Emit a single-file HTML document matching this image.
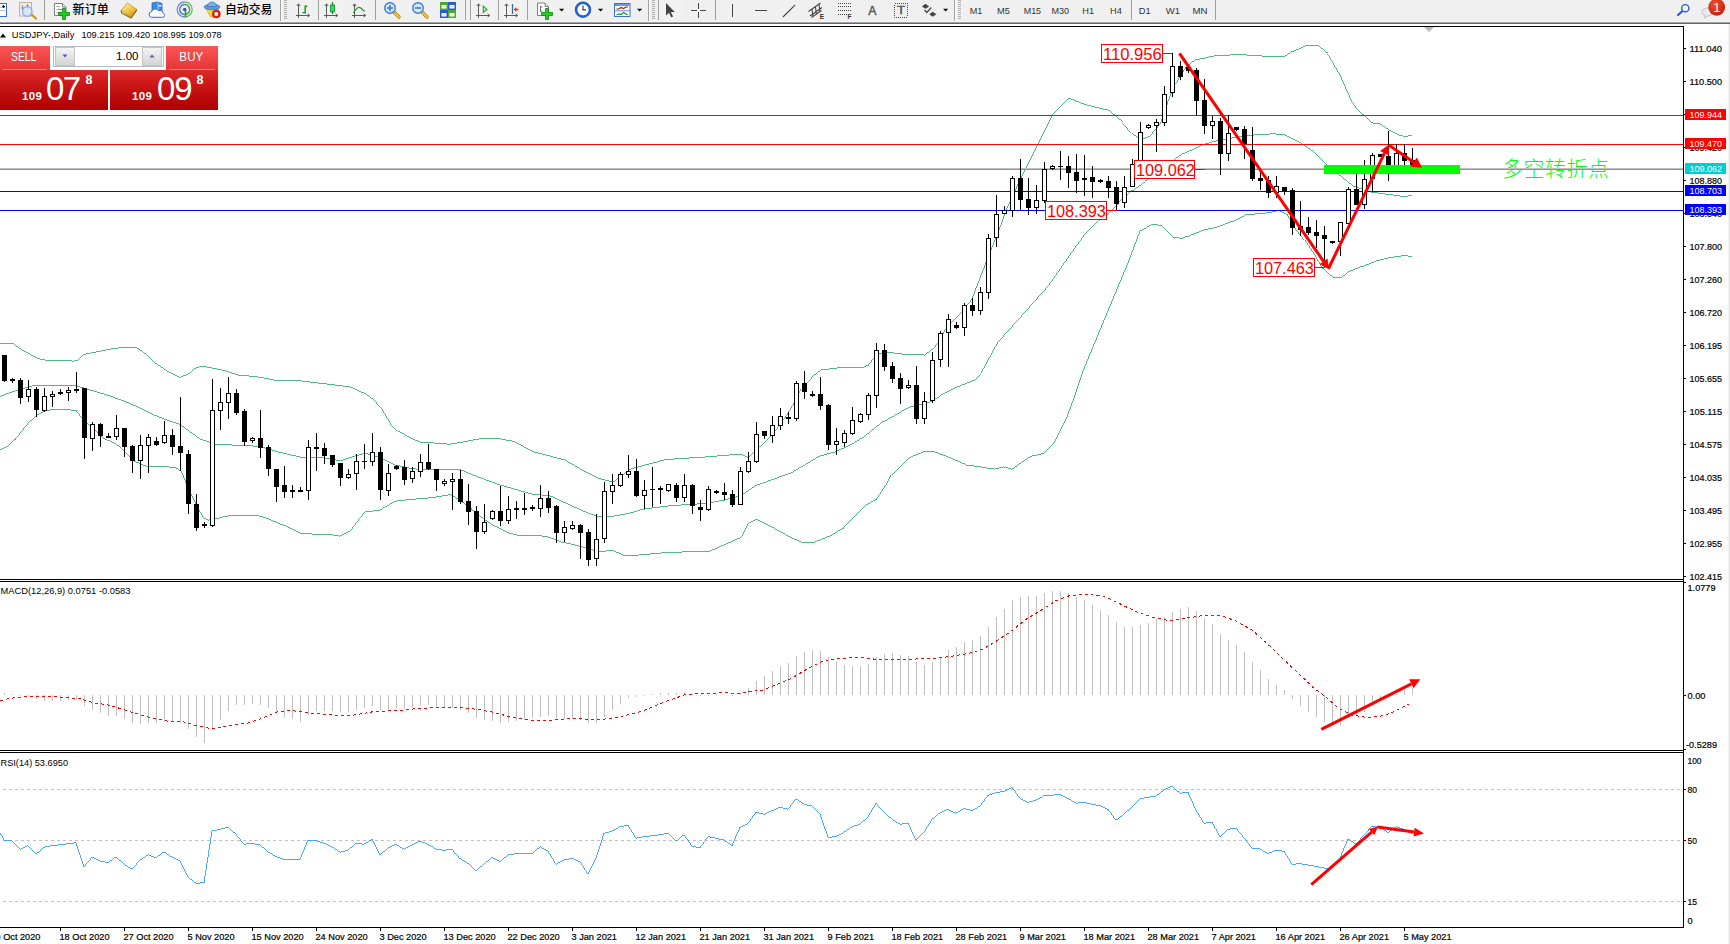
<!DOCTYPE html>
<html lang="zh">
<head>
<meta charset="utf-8">
<title>USDJPY-,Daily</title>
<style>
html,body{margin:0;padding:0;background:#fff;}
body{width:1730px;height:944px;position:relative;overflow:hidden;font-family:"Liberation Sans","Noto Sans CJK SC",sans-serif;}
#toolbar{position:absolute;left:0;top:0;width:1730px;height:24px;background:#f0f0f0;}
#toolbar .b1{position:absolute;left:0;top:21px;width:1730px;height:1px;background:#f6f6f6;}
#toolbar .b2{position:absolute;left:0;top:22px;width:1730px;height:1px;background:#a0a0a0;}
#toolbar .b3{position:absolute;left:0;top:23px;width:1730px;height:1px;background:#696969;}
#tb{position:absolute;left:0;top:0;}
#chart{position:absolute;left:0;top:0;}
svg text{font-family:"Liberation Sans","Noto Sans CJK SC",sans-serif;}
#oct{position:absolute;left:0;top:46px;width:218px;height:64px;}
.tab{position:absolute;top:0;height:24px;color:#fff;font-size:12px;line-height:22px;text-align:center;background:linear-gradient(#fb5555,#e63535);}
.tab i{position:absolute;left:3px;right:3px;bottom:0;height:1px;background:#f58a8a;}
.px{position:absolute;top:24px;width:108px;height:40px;background:linear-gradient(#dc2929,#c51111 50%,#ad0000);color:#fff;}
.px span{position:absolute;white-space:nowrap;}
.vol{position:absolute;left:53px;top:0;width:111px;height:21px;box-sizing:border-box;border:1px solid #b4bcc8;background:#fff;}
.vol .btn{position:absolute;top:0;width:20px;height:19px;background:linear-gradient(#f4f4f4,#d4d4d4);border:1px solid #c4c4c4;box-sizing:border-box;}
.vol .num{position:absolute;right:24.500px;top:0;line-height:19px;font-size:11.5px;color:#000;}
</style>
</head>
<body>
<div id="toolbar"><div class="b1"></div><div class="b2"></div><div class="b3"></div>
<svg id="tb" width="1730" height="24" viewBox="0 0 1730 24">
<defs>
<pattern id="chk" width="2" height="2" patternUnits="userSpaceOnUse"><rect width="2" height="2" fill="#f7f7f7"/><rect width="1" height="1" fill="#ececec"/><rect x="1" y="1" width="1" height="1" fill="#ececec"/></pattern>
<linearGradient id="gold" x1="0.2" y1="0" x2="0.8" y2="1"><stop offset="0" stop-color="#fdf0b0"/><stop offset="0.5" stop-color="#f0c848"/><stop offset="1" stop-color="#c89018"/></linearGradient>
<radialGradient id="badge" cx="0.4" cy="0.3" r="0.8"><stop offset="0" stop-color="#f05030"/><stop offset="1" stop-color="#c01808"/></radialGradient>
</defs>
<!-- pressed backgrounds -->
<rect x="319" y="0" width="24" height="20" fill="url(#chk)"/>
<rect x="471" y="0" width="24" height="20" fill="url(#chk)"/>
<rect x="499" y="0" width="24" height="20" fill="url(#chk)"/>
<rect x="659" y="0" width="24" height="20" fill="url(#chk)"/>
<rect x="1132" y="0" width="26" height="20" fill="url(#chk)"/>
<!-- separators -->
<g shape-rendering="crispEdges" fill="#a0a0a0">
<rect x="44" y="0" width="1" height="20"/><rect x="280" y="0" width="1" height="21"/><rect x="318" y="0" width="1" height="20"/><rect x="375" y="0" width="1" height="20"/><rect x="465" y="0" width="1" height="20"/><rect x="470" y="0" width="1" height="20"/><rect x="498" y="0" width="1" height="20"/><rect x="527" y="0" width="1" height="20"/><rect x="648" y="0" width="1" height="21"/><rect x="658" y="0" width="1" height="20"/><rect x="715" y="0" width="1" height="20"/><rect x="954" y="0" width="1" height="21"/><rect x="1131" y="0" width="1" height="20"/><rect x="1215" y="0" width="1" height="20"/>
</g>
<g shape-rendering="crispEdges" fill="#ffffff">
<rect x="281" y="0" width="1" height="21"/><rect x="649" y="0" width="1" height="21"/><rect x="955" y="0" width="1" height="21"/>
</g>
<!-- grips -->
<g stroke="#b0b0b0" stroke-width="1" stroke-dasharray="1,1" shape-rendering="crispEdges">
<line x1="284" y1="0" x2="284" y2="19"/><line x1="285" y1="0" x2="285" y2="19"/><line x1="286" y1="0" x2="286" y2="19"/>
<line x1="652" y1="0" x2="652" y2="19"/><line x1="653" y1="0" x2="653" y2="19"/><line x1="654" y1="0" x2="654" y2="19"/>
<line x1="958" y1="0" x2="958" y2="19"/><line x1="959" y1="0" x2="959" y2="19"/><line x1="960" y1="0" x2="960" y2="19"/>
</g>
<!-- icon1 partial doc -->
<rect x="-2" y="3.5" width="8.5" height="13" fill="#fff" stroke="#3a70d0" stroke-width="1"/>
<line x1="0" y1="7.5" x2="5" y2="7.5" stroke="#a8c0f0"/><line x1="0" y1="10.5" x2="5" y2="10.5" stroke="#a8c0f0"/>
<path d="M3.5 5v3M2 6.5h3" stroke="#222" stroke-width="1"/>
<!-- icon2 doc+magnifier -->
<rect x="19.5" y="2.5" width="12" height="13.5" fill="#f4ede4" stroke="#c0b0a0"/>
<path d="M22.5 5v6M27.5 4v6M21 8h3M26 6h3" stroke="#8890a0" stroke-width="1" fill="none"/>
<line x1="31" y1="14" x2="36" y2="18.5" stroke="#c89820" stroke-width="2.2" stroke-linecap="round"/>
<circle cx="27.3" cy="11.5" r="4.8" fill="#d4e4fa" fill-opacity="0.85" stroke="#88a8e0" stroke-width="1.2"/>
<!-- new order -->
<path d="M54.5 3.5h8l3.5 3.5v8.5h-11.5z" fill="#fff" stroke="#808080"/>
<path d="M62.5 3.5v3.5h3.5" fill="#e8e8e8" stroke="#808080"/>
<path d="M56.5 6.5h3M56.5 9.5h6M56.5 12.5h4" stroke="#a0a0a0"/>
<path d="M62.5 8.5h3v4h4v3h-4v4h-3v-4h-4v-3h4z" fill="#22cc22" stroke="#0a8a0a" stroke-width="0.8"/>
<text x="72.5" y="13.6" font-size="12" fill="#000" font-weight="500" textLength="36.5" lengthAdjust="spacingAndGlyphs" style="font-family:'Liberation Sans','Noto Sans CJK SC',sans-serif">新订单</text>
<!-- gold book -->
<path d="M121 10.500l6.500-7.500 9.500 6.500-6 8z" fill="url(#gold)" stroke="#b88818" stroke-width="0.700"/>
<path d="M121 10.800l0.800 2.400 9.300 4.800 5.700-8.200" fill="none" stroke="#9a6a08" stroke-width="1.200"/>
<!-- cloud server -->
<path d="M152 3l6-1 4 1.5v9h-10z" fill="#3a8ae8" stroke="#2a60b8" stroke-width="0.8"/>
<path d="M158 2v10" stroke="#9ac8ff" stroke-width="1"/>
<rect x="158.5" y="5" width="3" height="1.5" fill="#e8f4ff"/>
<path d="M151.300 17.300a2.900 2.900 0 0 1 0.300-5.700a3.700 3.700 0 0 1 6.800-0.800a3.200 3.200 0 0 1 4.800 2.600a2 2 0 0 1 -0.500 3.900z" fill="#f8fbff" stroke="#4a6aa8" stroke-width="1"/>
<!-- signal -->
<g fill="none" stroke-width="1.3">
<path d="M184.700 2a7.500 7.500 0 0 0 0 15" stroke="#6a8ad8"/>
<path d="M184.700 4.500a5 5 0 0 0 0 10" stroke="#4a70d0"/>
<path d="M184.700 2a7.500 7.500 0 0 1 0 15" stroke="#6ab86a"/>
<path d="M184.700 4.500a5 5 0 0 1 0 10" stroke="#3aa03a"/>
</g>
<circle cx="184.700" cy="9.500" r="1.800" fill="#2a5ad0"/>
<path d="M185.500 10v7.300" stroke="#2a9a2a" stroke-width="1.600"/>
<!-- auto trade -->
<path d="M206 8l12.500 0.500l-5 9l-3.500-1z" fill="#f8d840" stroke="#c8a020" stroke-width="0.700"/>
<ellipse cx="212" cy="7" rx="8" ry="2.800" fill="#5a9ae0" stroke="#3a70b8" stroke-width="0.700"/>
<path d="M207.500 6.500a4.500 4.500 0 0 1 9 0z" fill="#7ab4f0" stroke="#3a70b8" stroke-width="0.700"/>
<circle cx="216.300" cy="14" r="4" fill="#e02010" stroke="#a81008" stroke-width="0.600"/>
<rect x="214.600" y="12.300" width="3.400" height="3.400" fill="#fff"/>
<text x="225" y="13.600" font-size="12" fill="#000" font-weight="500" textLength="47.500" lengthAdjust="spacingAndGlyphs" style="font-family:'Liberation Sans','Noto Sans CJK SC',sans-serif">自动交易</text>
<!-- axes helper icons -->
<g id="axes" stroke="#505050" stroke-width="1" fill="none" shape-rendering="crispEdges">
</g>
<!-- bar chart -->
<g stroke="#5a5a5a" fill="none" stroke-width="1">
<path d="M298.500 4v14M296 15.500h13.500M296.800 6l1.700-2.200 1.700 2.200M307.500 13.800l2.200 1.700-2.200 1.700"/>
<path d="M326.500 4v14M324 15.500h13.500M324.800 6l1.700-2.200 1.700 2.200M335.500 13.800l2.200 1.700-2.200 1.700"/>
<path d="M354.500 4v14M352 15.500h13.500M352.800 6l1.700-2.200 1.700 2.200M363.500 13.800l2.200 1.700-2.200 1.700"/>
<path d="M478.500 4v14M476 15.500h13.500M476.800 6l1.700-2.200 1.700 2.200M487.500 13.800l2.200 1.700-2.200 1.700"/>
<path d="M506.500 4v14M504 15.500h13.500M504.800 6l1.700-2.200 1.700 2.200M515.500 13.800l2.200 1.700-2.200 1.700"/>
</g>
<path d="M305.200 5.500v8M305.200 6.300h2M302.500 12.600h2.700" stroke="#1a8a1a" stroke-width="1.400" fill="none"/>
<path d="M332.500 2.200v11.800" stroke="#0a7a1a" stroke-width="1.200"/>
<rect x="330.500" y="5" width="4" height="6.800" fill="#2ae050" stroke="#0a8a2a" stroke-width="0.800"/>
<path d="M353.300 13c2-3 4-5.600 5.800-5.600s3.500 2.500 5.500 4" stroke="#2a9a2a" stroke-width="1.300" fill="none"/>
<!-- zoom in/out -->
<line x1="394" y1="12" x2="399" y2="17" stroke="#a88010" stroke-width="3.400" stroke-linecap="round"/>
<line x1="394" y1="12" x2="399" y2="17" stroke="#e8c840" stroke-width="2" stroke-linecap="round"/>
<circle cx="390" cy="8" r="5.300" fill="#d4e8fc" stroke="#3a7ad0" stroke-width="1.400"/>
<path d="M387 8h6M390 5v6" stroke="#3a7ad0" stroke-width="1.600"/>
<line x1="422" y1="12" x2="427" y2="17" stroke="#a88010" stroke-width="3.400" stroke-linecap="round"/>
<line x1="422" y1="12" x2="427" y2="17" stroke="#e8c840" stroke-width="2" stroke-linecap="round"/>
<circle cx="418" cy="8" r="5.300" fill="#d4e8fc" stroke="#3a7ad0" stroke-width="1.400"/>
<path d="M415 8h6" stroke="#3a7ad0" stroke-width="1.600"/>
<!-- tile -->
<rect x="440" y="2" width="8" height="8" fill="#4aa82a"/><rect x="448" y="2" width="8" height="8" fill="#2a5ad8"/>
<rect x="440" y="10" width="8" height="8" fill="#2a5ad8"/><rect x="448" y="10" width="8" height="8" fill="#4aa82a"/>
<g fill="#fff"><rect x="441.500" y="5" width="5" height="3.500"/><rect x="449.500" y="5" width="5" height="3.500"/><rect x="441.500" y="13" width="5" height="3.500"/><rect x="449.500" y="13" width="5" height="3.500"/></g>
<g stroke="#b8d8b0" stroke-width="0.800"><path d="M442.500 6.800h3M450.500 6.800h3M442.500 14.800h3M450.500 14.800h3"/></g>
<!-- chart shift -->
<path d="M483.300 6.200l3.600 3.200-3.600 3.200z" fill="#c8f0c8" stroke="#2aa02a" stroke-width="1.100"/>
<!-- autoscroll -->
<path d="M512.500 4v10" stroke="#2a70b8" stroke-width="1.300"/>
<path d="M513.500 9.500l3-2.300v1.600h1.800v1.400h-1.800v1.600z" fill="#e04010"/>
<!-- indicators -->
<path d="M537.500 3h7.500l3.500 3.500v9h-11z" fill="#fff" stroke="#808080"/>
<path d="M545 3v3.500h3.500" fill="#e8e8e8" stroke="#808080"/>
<path d="M540.500 6v6M540.500 7h2M540.500 11h2" stroke="#707070" fill="none"/>
<path d="M545.500 8.500h3v4h4v3h-4v4h-3v-4h-4v-3h4z" fill="#22cc22" stroke="#0a8a0a" stroke-width="0.800"/>
<g fill="#000"><polygon points="559,8.700 564.200,8.700 561.600,11.600"/><polygon points="598,8.700 603.200,8.700 600.600,11.600"/><polygon points="637,8.700 642.200,8.700 639.600,11.600"/><polygon points="943,8.700 948.200,8.700 945.600,11.600"/></g>
<!-- clock -->
<circle cx="583" cy="9.700" r="6.800" fill="#fff" stroke="#2464cc" stroke-width="2.400"/>
<circle cx="583" cy="9.700" r="7.900" fill="none" stroke="#1a4aa0" stroke-width="0.500"/>
<path d="M583 5.500v4.400h3" stroke="#333" stroke-width="1.100" fill="none"/>
<!-- template -->
<rect x="614.500" y="3.500" width="15.500" height="13" fill="#fff" stroke="#3a70c8"/>
<rect x="615" y="4" width="14.500" height="2" fill="#6a9ae0"/>
<path d="M615 10.800h14.500" stroke="#3a70c8" stroke-width="0.800"/>
<path d="M616.500 9l2.500 0 2-1.500 2.500 1 2.500-1.500 2 0" stroke="#a02010" stroke-width="1.200" fill="none"/>
<path d="M616.500 15l2.500-1 2 .5 2.500-2 2.500 1.500 1.500 1" stroke="#1a9a2a" stroke-width="1.200" fill="none"/>
<!-- cursor -->
<path d="M666 3v12.500l3-2.800 2.300 4.800 1.800-.9-2.300-4.600h4z" fill="#444"/>
<!-- crosshair -->
<g stroke="#444" stroke-width="1" shape-rendering="crispEdges"><path d="M698.500 3v6M698.500 12v6M691 10.500h6M700 10.500h6"/></g>
<!-- lines -->
<g stroke="#444" stroke-width="1.100"><path d="M732.500 4v13" shape-rendering="crispEdges"/><path d="M755 10.500h12" shape-rendering="crispEdges"/><path d="M783 17l12.200-12.200"/></g>
<!-- channel -->
<g stroke="#444" stroke-width="1.100" fill="none"><path d="M808.500 11.500l12-8.500M810 16l12-8.500M811.500 17.500l10-7"/><path d="M812 9l0.800 7M815.500 6.800l0.800 7M819 4l0.800 7"/></g>
<text x="819.800" y="18.600" font-size="6.500" font-weight="bold" fill="#333">E</text>
<!-- fib -->
<g stroke="#444" stroke-width="1" stroke-dasharray="1,1" shape-rendering="crispEdges"><path d="M838 3.500h14M838 6.500h14M838 10.500h14M838 14.500h9"/></g>
<text x="847.600" y="18.600" font-size="6.500" font-weight="bold" fill="#333">F</text>
<!-- A, T -->
<text x="868.300" y="14.700" font-size="12.200" fill="#555" stroke="#555" stroke-width="0.400">A</text>
<rect x="894.500" y="3.500" width="12.500" height="13.500" fill="none" stroke="#444" stroke-dasharray="1,1" shape-rendering="crispEdges"/>
<text x="896.900" y="14.300" font-size="10.500" fill="#555" stroke="#555" stroke-width="0.400" textLength="8.200" lengthAdjust="spacingAndGlyphs">T</text>
<!-- arrows -->
<path d="M925.500 3.800l3.600 2.600-3.600 2.400-3.600-2.400z" fill="#444"/>
<path d="M932.800 16.800l3.600-2.600-3.600-2.400-3.600 2.400z" fill="#444"/>
<path d="M924.500 10l2.300 2.500 4.500-5" stroke="#444" stroke-width="1.200" fill="none"/>
<!-- timeframes -->
<g font-size="9.200" fill="#333">
<text x="969.700" y="13.900" textLength="12.600" lengthAdjust="spacingAndGlyphs">M1</text>
<text x="997.100" y="13.900" textLength="12.900" lengthAdjust="spacingAndGlyphs">M5</text>
<text x="1023.700" y="13.900" textLength="17.400" lengthAdjust="spacingAndGlyphs">M15</text>
<text x="1051.500" y="13.900" textLength="17.600" lengthAdjust="spacingAndGlyphs">M30</text>
<text x="1082.300" y="13.900" textLength="11.800" lengthAdjust="spacingAndGlyphs">H1</text>
<text x="1110.100" y="13.900" textLength="11.800" lengthAdjust="spacingAndGlyphs">H4</text>
<text x="1138.700" y="13.900" textLength="11.900" lengthAdjust="spacingAndGlyphs">D1</text>
<text x="1165.800" y="13.900" textLength="14.200" lengthAdjust="spacingAndGlyphs">W1</text>
<text x="1192.400" y="13.900" textLength="15.100" lengthAdjust="spacingAndGlyphs">MN</text>
</g>
<!-- search -->
<line x1="1678" y1="15" x2="1682.500" y2="11" stroke="#2a5ad8" stroke-width="2.200" stroke-linecap="round"/>
<circle cx="1685.300" cy="8.200" r="3.600" fill="#f4f8ff" stroke="#2a5ad8" stroke-width="1.400"/>
<!-- chat -->
<path d="M1702 12a5.500 4 0 0 1 11 0a5.500 4 0 0 1 -6 4l-2.500 2.300l.5-2.800a5.500 4 0 0 1 -3 -3.500z" fill="#e8e8ee" stroke="#b8b8c0" stroke-width="0.800"/>
<circle cx="1716.700" cy="7.300" r="8.400" fill="url(#badge)"/>
<text x="1713.300" y="12" font-size="13" fill="#fff">1</text>
</svg>

</div>
<svg id="chart" width="1730" height="944" viewBox="0 0 1730 944">
<g shape-rendering="crispEdges">
<rect x="0" y="26" width="1684" height="1" fill="#000"/>
<rect x="0" y="579" width="1684" height="1" fill="#000"/>
<rect x="0" y="581" width="1684" height="1" fill="#000"/>
<rect x="0" y="750" width="1684" height="1" fill="#000"/>
<rect x="0" y="752" width="1684" height="1" fill="#000"/>
<rect x="0" y="927" width="1684" height="1" fill="#000"/>
<rect x="1683" y="26" width="1" height="902" fill="#000"/>
<rect x="1728" y="24" width="1" height="920" fill="#f4f4f4"/>
<rect x="1729" y="24" width="1" height="920" fill="#dedede"/>
</g>
<g shape-rendering="crispEdges">
<line x1="0" y1="789.5" x2="1683" y2="789.5" stroke="#c0c0c0" stroke-width="1" stroke-dasharray="3,3" stroke-dashoffset="3"/>
<line x1="0" y1="840.5" x2="1683" y2="840.5" stroke="#c0c0c0" stroke-width="1" stroke-dasharray="3,3" stroke-dashoffset="3"/>
<line x1="0" y1="901.5" x2="1683" y2="901.5" stroke="#c0c0c0" stroke-width="1" stroke-dasharray="3,3" stroke-dashoffset="3"/>
</g>
<polyline points="0.0,343.8 13.3,343.8 22.2,350.0 37.8,358.5 44.5,360.0 73.4,361.1 76.8,360.7 84.5,354.0 106.8,349.6 124.6,347.1 135.7,347.4 142.4,351.1 155.7,363.4 169.1,372.3 180.2,377.4 189.1,373.4 195.8,367.8 202.4,366.0 225.0,370.5 237.5,375.0 257.5,377.0 275.0,380.5 300.0,380.8 325.0,383.8 350.0,386.8 362.5,392.5 375.0,401.2 382.5,410.0 390.0,422.5 397.5,431.2 412.5,439.5 420.0,442.0 450.0,444.2 460.0,442.5 477.5,439.0 500.0,438.8 512.5,441.2 532.5,451.8 550.0,456.2 565.0,460.0 580.0,468.8 600.0,478.8 612.5,481.8 616.0,480.0 631.0,468.8 666.0,459.5 703.5,457.0 738.5,454.2 743.0,455.0 748.5,458.0 756.0,450.0 766.0,441.2 776.0,430.0 786.0,416.2 793.5,403.8 801.0,388.8 811.0,377.5 821.0,370.0 841.0,367.5 861.0,368.0 868.5,365.0 876.0,355.0 886.0,352.0 903.5,354.2 923.5,355.0 933.5,347.5 941.0,337.5 945.0,330.0 957.5,316.2 972.5,297.5 985.0,265.0 995.0,240.0 1005.0,212.5 1020.0,180.0 1030.0,160.0 1037.5,145.0 1040.0,140.0 1052.5,115.0 1068.8,98.0 1085.0,104.5 1107.5,110.0 1122.5,122.5 1132.0,133.0 1140.0,139.5 1150.0,136.2 1160.0,123.8 1167.5,102.5 1175.0,83.8 1185.0,67.5 1195.0,60.0 1215.0,55.8 1240.0,54.5 1265.0,56.2 1283.8,57.0 1292.5,51.2 1305.0,45.8 1317.5,45.8 1327.5,53.8 1340.0,75.0 1350.0,97.5 1358.0,110.0 1372.5,123.0 1380.0,123.8 1390.0,130.6 1398.8,135.0 1405.0,136.5 1412.0,135.4" fill="none" stroke="#3cb371" stroke-width="0.9" shape-rendering="crispEdges" />
<polyline points="0.0,396.3 11.1,392.3 31.1,386.1 40.0,385.2 75.6,385.6 89.0,389.6 106.8,395.0 124.6,401.2 142.4,409.0 155.7,415.7 169.1,420.8 180.2,424.5 189.1,431.2 200.2,439.0 215.0,444.2 257.5,446.2 275.0,451.2 300.0,457.0 317.5,457.0 340.0,460.8 365.0,453.0 380.0,457.5 395.0,465.0 412.5,468.8 430.0,470.0 460.0,469.5 475.0,475.8 500.0,485.0 532.5,494.2 550.0,495.8 570.0,505.0 585.0,511.8 597.5,516.2 612.5,516.2 632.0,512.5 641.0,509.5 666.0,506.2 691.0,504.2 703.5,503.8 723.5,500.0 741.0,495.5 756.0,485.5 771.0,480.0 788.5,473.8 803.5,465.0 818.5,456.2 833.5,452.0 848.5,445.5 866.0,435.0 883.5,421.2 908.5,407.0 928.5,402.5 941.0,395.0 958.5,386.2 973.5,380.0 981.0,373.0 997.8,342.3 1024.5,312.7 1048.2,286.0 1069.0,256.3 1083.8,235.6 1098.6,220.8 1110.4,211.9 1120.0,201.2 1132.5,190.0 1145.0,181.2 1160.0,171.2 1170.0,162.5 1182.5,153.8 1200.0,145.5 1215.0,141.2 1235.0,137.5 1252.5,135.0 1272.5,133.8 1285.0,135.0 1300.0,142.5 1315.0,152.5 1327.5,165.0 1337.5,174.4 1352.5,186.2 1370.0,191.9 1387.5,194.4 1402.5,196.5 1412.0,195.4" fill="none" stroke="#3cb371" stroke-width="0.9" shape-rendering="crispEdges" />
<polyline points="0.0,449.7 6.7,446.8 15.6,439.0 28.9,422.3 37.8,414.5 46.7,410.1 64.5,409.6 76.8,410.5 82.3,417.9 93.4,429.0 104.6,439.0 115.7,443.5 124.6,451.2 133.5,461.3 146.8,466.8 162.4,466.2 175.8,467.9 181.3,471.3 189.1,490.2 198.0,508.0 203.6,518.0 207.5,520.0 215.0,518.8 230.0,515.5 255.0,515.0 265.0,517.5 282.5,525.0 300.0,533.2 320.0,534.5 330.0,534.5 340.0,536.2 350.0,531.2 357.5,521.2 365.0,512.0 380.0,510.0 395.0,501.2 412.5,499.2 432.5,497.5 450.0,494.5 460.0,500.0 467.5,506.2 475.0,512.0 485.0,520.0 495.0,526.2 507.5,532.5 520.0,535.8 537.5,535.5 550.0,537.5 562.5,542.5 575.0,545.0 585.0,547.5 597.5,551.2 612.5,550.8 622.5,555.0 628.5,555.8 666.0,552.5 708.5,551.2 741.0,537.0 748.5,522.5 756.0,519.2 766.0,523.8 791.0,537.5 801.0,542.0 813.5,542.0 828.5,536.2 843.5,527.5 856.0,515.0 866.0,505.0 876.0,499.5 886.0,485.0 891.0,475.0 908.5,457.5 923.5,451.5 933.5,451.8 948.5,457.5 966.0,465.0 980.0,466.8 994.8,469.2 1003.7,466.8 1012.0,469.2 1030.4,456.4 1043.7,453.5 1054.0,443.0 1066.0,419.4 1074.9,395.7 1083.8,369.0 1098.6,333.4 1113.4,297.8 1128.2,262.3 1140.0,231.0 1152.0,224.6 1160.8,225.2 1172.7,237.0 1181.6,238.5 1187.5,236.2 1202.5,230.0 1220.0,226.2 1232.5,221.2 1245.0,215.0 1257.5,213.8 1270.0,212.5 1277.5,210.5 1287.5,215.0 1295.0,227.5 1305.0,240.0 1315.0,255.0 1322.5,268.8 1332.5,277.8 1341.0,277.8 1349.0,271.6 1362.5,266.0 1375.0,261.2 1390.0,257.5 1402.5,255.8 1412.0,256.2" fill="none" stroke="#3cb371" stroke-width="0.9" shape-rendering="crispEdges" />
<text x="1502" y="175.6" font-size="21" fill="#00ff00" font-family="'Liberation Serif','Noto Serif CJK SC',serif" font-weight="300" textLength="107" lengthAdjust="spacing">多空转折点</text>
<g shape-rendering="crispEdges">
<rect x="0" y="115" width="1683" height="1" fill="#ff0000"/>
<rect x="0" y="144" width="1683" height="1" fill="#ff0000"/>
<rect x="0" y="168" width="1683" height="1" fill="#c0c0c0"/>
<rect x="0" y="169" width="1683" height="1" fill="#00ced1"/>
<rect x="0" y="191" width="1683" height="1" fill="#0000ff"/>
<rect x="0" y="210" width="1683" height="1" fill="#0000ff"/>
</g>
<g shape-rendering="crispEdges">
<rect x="4" y="355" width="1" height="27" fill="#000"/>
<rect x="2" y="355" width="5" height="26" fill="#000"/>
<rect x="12" y="378" width="1" height="5" fill="#000"/>
<rect x="10" y="379" width="5" height="2" fill="#000"/>
<rect x="20" y="378" width="1" height="26" fill="#000"/>
<rect x="18" y="380" width="5" height="18" fill="#000"/>
<rect x="28" y="380" width="1" height="22" fill="#000"/>
<rect x="26" y="389" width="5" height="8" fill="#000"/>
<rect x="27" y="390" width="3" height="6" fill="#fff"/>
<rect x="36" y="387" width="1" height="30" fill="#000"/>
<rect x="34" y="389" width="5" height="21" fill="#000"/>
<rect x="44" y="388" width="1" height="24" fill="#000"/>
<rect x="42" y="396" width="5" height="15" fill="#000"/>
<rect x="43" y="397" width="3" height="13" fill="#fff"/>
<rect x="52" y="391" width="1" height="16" fill="#000"/>
<rect x="50" y="394" width="5" height="3" fill="#000"/>
<rect x="51" y="395" width="3" height="1" fill="#fff"/>
<rect x="60" y="389" width="1" height="6" fill="#000"/>
<rect x="58" y="392" width="5" height="2" fill="#000"/>
<rect x="68" y="387" width="1" height="14" fill="#000"/>
<rect x="66" y="390" width="5" height="3" fill="#000"/>
<rect x="67" y="391" width="3" height="1" fill="#fff"/>
<rect x="76" y="372" width="1" height="21" fill="#000"/>
<rect x="74" y="389" width="5" height="2" fill="#000"/>
<rect x="84" y="388" width="1" height="71" fill="#000"/>
<rect x="82" y="388" width="5" height="50" fill="#000"/>
<rect x="92" y="422" width="1" height="29" fill="#000"/>
<rect x="90" y="424" width="5" height="15" fill="#000"/>
<rect x="91" y="425" width="3" height="13" fill="#fff"/>
<rect x="100" y="423" width="1" height="24" fill="#000"/>
<rect x="98" y="424" width="5" height="12" fill="#000"/>
<rect x="108" y="433" width="1" height="5" fill="#000"/>
<rect x="106" y="436" width="5" height="2" fill="#000"/>
<rect x="116" y="415" width="1" height="25" fill="#000"/>
<rect x="114" y="428" width="5" height="9" fill="#000"/>
<rect x="115" y="429" width="3" height="7" fill="#fff"/>
<rect x="124" y="428" width="1" height="29" fill="#000"/>
<rect x="122" y="428" width="5" height="19" fill="#000"/>
<rect x="132" y="445" width="1" height="28" fill="#000"/>
<rect x="130" y="446" width="5" height="15" fill="#000"/>
<rect x="140" y="435" width="1" height="44" fill="#000"/>
<rect x="138" y="445" width="5" height="16" fill="#000"/>
<rect x="139" y="446" width="3" height="14" fill="#fff"/>
<rect x="148" y="434" width="1" height="39" fill="#000"/>
<rect x="146" y="437" width="5" height="9" fill="#000"/>
<rect x="147" y="438" width="3" height="7" fill="#fff"/>
<rect x="156" y="437" width="1" height="9" fill="#000"/>
<rect x="154" y="441" width="5" height="4" fill="#000"/>
<rect x="164" y="421" width="1" height="23" fill="#000"/>
<rect x="162" y="435" width="5" height="8" fill="#000"/>
<rect x="163" y="436" width="3" height="6" fill="#fff"/>
<rect x="172" y="429" width="1" height="26" fill="#000"/>
<rect x="170" y="435" width="5" height="12" fill="#000"/>
<rect x="180" y="397" width="1" height="74" fill="#000"/>
<rect x="178" y="446" width="5" height="7" fill="#000"/>
<rect x="188" y="450" width="1" height="64" fill="#000"/>
<rect x="186" y="454" width="5" height="50" fill="#000"/>
<rect x="196" y="494" width="1" height="37" fill="#000"/>
<rect x="194" y="504" width="5" height="24" fill="#000"/>
<rect x="204" y="522" width="1" height="6" fill="#000"/>
<rect x="202" y="524" width="5" height="2" fill="#000"/>
<rect x="212" y="379" width="1" height="148" fill="#000"/>
<rect x="210" y="410" width="5" height="116" fill="#000"/>
<rect x="211" y="411" width="3" height="114" fill="#fff"/>
<rect x="220" y="388" width="1" height="42" fill="#000"/>
<rect x="218" y="402" width="5" height="9" fill="#000"/>
<rect x="219" y="403" width="3" height="7" fill="#fff"/>
<rect x="228" y="377" width="1" height="42" fill="#000"/>
<rect x="226" y="393" width="5" height="10" fill="#000"/>
<rect x="227" y="394" width="3" height="8" fill="#fff"/>
<rect x="236" y="389" width="1" height="26" fill="#000"/>
<rect x="234" y="393" width="5" height="20" fill="#000"/>
<rect x="244" y="409" width="1" height="37" fill="#000"/>
<rect x="242" y="411" width="5" height="31" fill="#000"/>
<rect x="252" y="437" width="1" height="6" fill="#000"/>
<rect x="250" y="438" width="5" height="3" fill="#000"/>
<rect x="251" y="439" width="3" height="1" fill="#fff"/>
<rect x="260" y="410" width="1" height="48" fill="#000"/>
<rect x="258" y="438" width="5" height="10" fill="#000"/>
<rect x="268" y="445" width="1" height="31" fill="#000"/>
<rect x="266" y="447" width="5" height="22" fill="#000"/>
<rect x="276" y="469" width="1" height="33" fill="#000"/>
<rect x="274" y="469" width="5" height="18" fill="#000"/>
<rect x="284" y="466" width="1" height="32" fill="#000"/>
<rect x="282" y="485" width="5" height="7" fill="#000"/>
<rect x="292" y="485" width="1" height="13" fill="#000"/>
<rect x="290" y="490" width="5" height="2" fill="#000"/>
<rect x="300" y="487" width="1" height="5" fill="#000"/>
<rect x="298" y="490" width="5" height="2" fill="#000"/>
<rect x="308" y="440" width="1" height="60" fill="#000"/>
<rect x="306" y="447" width="5" height="44" fill="#000"/>
<rect x="307" y="448" width="3" height="42" fill="#fff"/>
<rect x="316" y="433" width="1" height="38" fill="#000"/>
<rect x="314" y="447" width="5" height="2" fill="#000"/>
<rect x="324" y="443" width="1" height="21" fill="#000"/>
<rect x="322" y="448" width="5" height="8" fill="#000"/>
<rect x="332" y="455" width="1" height="12" fill="#000"/>
<rect x="330" y="455" width="5" height="10" fill="#000"/>
<rect x="340" y="463" width="1" height="23" fill="#000"/>
<rect x="338" y="463" width="5" height="15" fill="#000"/>
<rect x="348" y="469" width="1" height="10" fill="#000"/>
<rect x="346" y="474" width="5" height="4" fill="#000"/>
<rect x="347" y="475" width="3" height="2" fill="#fff"/>
<rect x="356" y="454" width="1" height="36" fill="#000"/>
<rect x="354" y="461" width="5" height="13" fill="#000"/>
<rect x="355" y="462" width="3" height="11" fill="#fff"/>
<rect x="364" y="444" width="1" height="25" fill="#000"/>
<rect x="362" y="461" width="5" height="1" fill="#000"/>
<rect x="372" y="433" width="1" height="33" fill="#000"/>
<rect x="370" y="452" width="5" height="10" fill="#000"/>
<rect x="371" y="453" width="3" height="8" fill="#fff"/>
<rect x="380" y="447" width="1" height="53" fill="#000"/>
<rect x="378" y="452" width="5" height="38" fill="#000"/>
<rect x="388" y="464" width="1" height="32" fill="#000"/>
<rect x="386" y="473" width="5" height="18" fill="#000"/>
<rect x="387" y="474" width="3" height="16" fill="#fff"/>
<rect x="396" y="465" width="1" height="5" fill="#000"/>
<rect x="394" y="466" width="5" height="3" fill="#000"/>
<rect x="404" y="460" width="1" height="25" fill="#000"/>
<rect x="402" y="467" width="5" height="13" fill="#000"/>
<rect x="412" y="467" width="1" height="16" fill="#000"/>
<rect x="410" y="471" width="5" height="8" fill="#000"/>
<rect x="411" y="472" width="3" height="6" fill="#fff"/>
<rect x="420" y="454" width="1" height="23" fill="#000"/>
<rect x="418" y="462" width="5" height="10" fill="#000"/>
<rect x="419" y="463" width="3" height="8" fill="#fff"/>
<rect x="428" y="444" width="1" height="26" fill="#000"/>
<rect x="426" y="462" width="5" height="7" fill="#000"/>
<rect x="436" y="469" width="1" height="22" fill="#000"/>
<rect x="434" y="469" width="5" height="11" fill="#000"/>
<rect x="444" y="479" width="1" height="7" fill="#000"/>
<rect x="442" y="481" width="5" height="3" fill="#000"/>
<rect x="443" y="482" width="3" height="1" fill="#fff"/>
<rect x="452" y="473" width="1" height="37" fill="#000"/>
<rect x="450" y="479" width="5" height="3" fill="#000"/>
<rect x="451" y="480" width="3" height="1" fill="#fff"/>
<rect x="460" y="470" width="1" height="34" fill="#000"/>
<rect x="458" y="479" width="5" height="23" fill="#000"/>
<rect x="468" y="484" width="1" height="41" fill="#000"/>
<rect x="466" y="501" width="5" height="11" fill="#000"/>
<rect x="476" y="506" width="1" height="43" fill="#000"/>
<rect x="474" y="511" width="5" height="21" fill="#000"/>
<rect x="484" y="504" width="1" height="30" fill="#000"/>
<rect x="482" y="522" width="5" height="10" fill="#000"/>
<rect x="483" y="523" width="3" height="8" fill="#fff"/>
<rect x="492" y="510" width="1" height="10" fill="#000"/>
<rect x="490" y="511" width="5" height="8" fill="#000"/>
<rect x="491" y="512" width="3" height="6" fill="#fff"/>
<rect x="500" y="486" width="1" height="40" fill="#000"/>
<rect x="498" y="511" width="5" height="10" fill="#000"/>
<rect x="508" y="496" width="1" height="28" fill="#000"/>
<rect x="506" y="509" width="5" height="12" fill="#000"/>
<rect x="507" y="510" width="3" height="10" fill="#fff"/>
<rect x="516" y="501" width="1" height="18" fill="#000"/>
<rect x="514" y="508" width="5" height="2" fill="#000"/>
<rect x="524" y="493" width="1" height="22" fill="#000"/>
<rect x="522" y="508" width="5" height="2" fill="#000"/>
<rect x="532" y="505" width="1" height="6" fill="#000"/>
<rect x="530" y="507" width="5" height="2" fill="#000"/>
<rect x="540" y="485" width="1" height="32" fill="#000"/>
<rect x="538" y="498" width="5" height="11" fill="#000"/>
<rect x="539" y="499" width="3" height="9" fill="#fff"/>
<rect x="548" y="491" width="1" height="22" fill="#000"/>
<rect x="546" y="498" width="5" height="10" fill="#000"/>
<rect x="556" y="505" width="1" height="38" fill="#000"/>
<rect x="554" y="506" width="5" height="27" fill="#000"/>
<rect x="564" y="521" width="1" height="21" fill="#000"/>
<rect x="562" y="527" width="5" height="6" fill="#000"/>
<rect x="563" y="528" width="3" height="4" fill="#fff"/>
<rect x="572" y="521" width="1" height="9" fill="#000"/>
<rect x="570" y="525" width="5" height="4" fill="#000"/>
<rect x="571" y="526" width="3" height="2" fill="#fff"/>
<rect x="580" y="524" width="1" height="35" fill="#000"/>
<rect x="578" y="525" width="5" height="8" fill="#000"/>
<rect x="588" y="529" width="1" height="37" fill="#000"/>
<rect x="586" y="532" width="5" height="28" fill="#000"/>
<rect x="596" y="514" width="1" height="52" fill="#000"/>
<rect x="594" y="539" width="5" height="20" fill="#000"/>
<rect x="595" y="540" width="3" height="18" fill="#fff"/>
<rect x="604" y="482" width="1" height="61" fill="#000"/>
<rect x="602" y="491" width="5" height="48" fill="#000"/>
<rect x="603" y="492" width="3" height="46" fill="#fff"/>
<rect x="612" y="474" width="1" height="30" fill="#000"/>
<rect x="610" y="485" width="5" height="7" fill="#000"/>
<rect x="611" y="486" width="3" height="5" fill="#fff"/>
<rect x="620" y="472" width="1" height="15" fill="#000"/>
<rect x="618" y="474" width="5" height="12" fill="#000"/>
<rect x="619" y="475" width="3" height="10" fill="#fff"/>
<rect x="628" y="455" width="1" height="23" fill="#000"/>
<rect x="626" y="471" width="5" height="4" fill="#000"/>
<rect x="627" y="472" width="3" height="2" fill="#fff"/>
<rect x="636" y="459" width="1" height="38" fill="#000"/>
<rect x="634" y="471" width="5" height="25" fill="#000"/>
<rect x="644" y="480" width="1" height="29" fill="#000"/>
<rect x="642" y="490" width="5" height="6" fill="#000"/>
<rect x="643" y="491" width="3" height="4" fill="#fff"/>
<rect x="652" y="467" width="1" height="40" fill="#000"/>
<rect x="650" y="489" width="5" height="1" fill="#000"/>
<rect x="660" y="486" width="1" height="18" fill="#000"/>
<rect x="658" y="488" width="5" height="2" fill="#000"/>
<rect x="668" y="484" width="1" height="8" fill="#000"/>
<rect x="666" y="484" width="5" height="7" fill="#000"/>
<rect x="667" y="485" width="3" height="5" fill="#fff"/>
<rect x="676" y="483" width="1" height="19" fill="#000"/>
<rect x="674" y="485" width="5" height="13" fill="#000"/>
<rect x="684" y="474" width="1" height="28" fill="#000"/>
<rect x="682" y="485" width="5" height="13" fill="#000"/>
<rect x="683" y="486" width="3" height="11" fill="#fff"/>
<rect x="692" y="484" width="1" height="30" fill="#000"/>
<rect x="690" y="485" width="5" height="21" fill="#000"/>
<rect x="700" y="500" width="1" height="21" fill="#000"/>
<rect x="698" y="507" width="5" height="3" fill="#000"/>
<rect x="708" y="486" width="1" height="25" fill="#000"/>
<rect x="706" y="489" width="5" height="21" fill="#000"/>
<rect x="707" y="490" width="3" height="19" fill="#fff"/>
<rect x="716" y="490" width="1" height="4" fill="#000"/>
<rect x="714" y="491" width="5" height="2" fill="#000"/>
<rect x="724" y="483" width="1" height="17" fill="#000"/>
<rect x="722" y="492" width="5" height="3" fill="#000"/>
<rect x="732" y="490" width="1" height="17" fill="#000"/>
<rect x="730" y="494" width="5" height="11" fill="#000"/>
<rect x="740" y="467" width="1" height="38" fill="#000"/>
<rect x="738" y="471" width="5" height="34" fill="#000"/>
<rect x="739" y="472" width="3" height="32" fill="#fff"/>
<rect x="748" y="452" width="1" height="21" fill="#000"/>
<rect x="746" y="461" width="5" height="11" fill="#000"/>
<rect x="747" y="462" width="3" height="9" fill="#fff"/>
<rect x="756" y="422" width="1" height="41" fill="#000"/>
<rect x="754" y="434" width="5" height="28" fill="#000"/>
<rect x="755" y="435" width="3" height="26" fill="#fff"/>
<rect x="764" y="431" width="1" height="8" fill="#000"/>
<rect x="762" y="431" width="5" height="5" fill="#000"/>
<rect x="772" y="416" width="1" height="27" fill="#000"/>
<rect x="770" y="425" width="5" height="11" fill="#000"/>
<rect x="771" y="426" width="3" height="9" fill="#fff"/>
<rect x="780" y="408" width="1" height="22" fill="#000"/>
<rect x="778" y="416" width="5" height="10" fill="#000"/>
<rect x="779" y="417" width="3" height="8" fill="#fff"/>
<rect x="788" y="412" width="1" height="12" fill="#000"/>
<rect x="786" y="417" width="5" height="2" fill="#000"/>
<rect x="796" y="381" width="1" height="40" fill="#000"/>
<rect x="794" y="383" width="5" height="36" fill="#000"/>
<rect x="795" y="384" width="3" height="34" fill="#fff"/>
<rect x="804" y="371" width="1" height="28" fill="#000"/>
<rect x="802" y="383" width="5" height="9" fill="#000"/>
<rect x="812" y="391" width="1" height="6" fill="#000"/>
<rect x="810" y="394" width="5" height="2" fill="#000"/>
<rect x="820" y="377" width="1" height="33" fill="#000"/>
<rect x="818" y="394" width="5" height="12" fill="#000"/>
<rect x="828" y="404" width="1" height="46" fill="#000"/>
<rect x="826" y="405" width="5" height="40" fill="#000"/>
<rect x="836" y="428" width="1" height="27" fill="#000"/>
<rect x="834" y="441" width="5" height="4" fill="#000"/>
<rect x="835" y="442" width="3" height="2" fill="#fff"/>
<rect x="844" y="430" width="1" height="17" fill="#000"/>
<rect x="842" y="433" width="5" height="10" fill="#000"/>
<rect x="843" y="434" width="3" height="8" fill="#fff"/>
<rect x="852" y="407" width="1" height="28" fill="#000"/>
<rect x="850" y="420" width="5" height="14" fill="#000"/>
<rect x="851" y="421" width="3" height="12" fill="#fff"/>
<rect x="860" y="413" width="1" height="10" fill="#000"/>
<rect x="858" y="414" width="5" height="8" fill="#000"/>
<rect x="859" y="415" width="3" height="6" fill="#fff"/>
<rect x="868" y="393" width="1" height="27" fill="#000"/>
<rect x="866" y="395" width="5" height="20" fill="#000"/>
<rect x="867" y="396" width="3" height="18" fill="#fff"/>
<rect x="876" y="343" width="1" height="65" fill="#000"/>
<rect x="874" y="350" width="5" height="46" fill="#000"/>
<rect x="875" y="351" width="3" height="44" fill="#fff"/>
<rect x="884" y="344" width="1" height="27" fill="#000"/>
<rect x="882" y="350" width="5" height="17" fill="#000"/>
<rect x="892" y="362" width="1" height="21" fill="#000"/>
<rect x="890" y="366" width="5" height="13" fill="#000"/>
<rect x="900" y="373" width="1" height="31" fill="#000"/>
<rect x="898" y="378" width="5" height="11" fill="#000"/>
<rect x="908" y="380" width="1" height="9" fill="#000"/>
<rect x="906" y="385" width="5" height="3" fill="#000"/>
<rect x="907" y="386" width="3" height="1" fill="#fff"/>
<rect x="916" y="366" width="1" height="58" fill="#000"/>
<rect x="914" y="385" width="5" height="34" fill="#000"/>
<rect x="924" y="392" width="1" height="32" fill="#000"/>
<rect x="922" y="401" width="5" height="18" fill="#000"/>
<rect x="923" y="402" width="3" height="16" fill="#fff"/>
<rect x="932" y="352" width="1" height="51" fill="#000"/>
<rect x="930" y="360" width="5" height="41" fill="#000"/>
<rect x="931" y="361" width="3" height="39" fill="#fff"/>
<rect x="940" y="331" width="1" height="36" fill="#000"/>
<rect x="938" y="333" width="5" height="27" fill="#000"/>
<rect x="939" y="334" width="3" height="25" fill="#fff"/>
<rect x="948" y="314" width="1" height="53" fill="#000"/>
<rect x="946" y="319" width="5" height="14" fill="#000"/>
<rect x="947" y="320" width="3" height="12" fill="#fff"/>
<rect x="956" y="322" width="1" height="7" fill="#000"/>
<rect x="954" y="325" width="5" height="3" fill="#000"/>
<rect x="964" y="303" width="1" height="33" fill="#000"/>
<rect x="962" y="305" width="5" height="23" fill="#000"/>
<rect x="963" y="306" width="3" height="21" fill="#fff"/>
<rect x="972" y="298" width="1" height="18" fill="#000"/>
<rect x="970" y="305" width="5" height="6" fill="#000"/>
<rect x="980" y="287" width="1" height="28" fill="#000"/>
<rect x="978" y="292" width="5" height="19" fill="#000"/>
<rect x="979" y="293" width="3" height="17" fill="#fff"/>
<rect x="988" y="234" width="1" height="65" fill="#000"/>
<rect x="986" y="238" width="5" height="55" fill="#000"/>
<rect x="987" y="239" width="3" height="53" fill="#fff"/>
<rect x="996" y="195" width="1" height="52" fill="#000"/>
<rect x="994" y="214" width="5" height="24" fill="#000"/>
<rect x="995" y="215" width="3" height="22" fill="#fff"/>
<rect x="1004" y="206" width="1" height="8" fill="#000"/>
<rect x="1002" y="210" width="5" height="4" fill="#000"/>
<rect x="1003" y="211" width="3" height="2" fill="#fff"/>
<rect x="1012" y="176" width="1" height="41" fill="#000"/>
<rect x="1010" y="178" width="5" height="33" fill="#000"/>
<rect x="1011" y="179" width="3" height="31" fill="#fff"/>
<rect x="1020" y="159" width="1" height="51" fill="#000"/>
<rect x="1018" y="178" width="5" height="22" fill="#000"/>
<rect x="1028" y="178" width="1" height="37" fill="#000"/>
<rect x="1026" y="199" width="5" height="9" fill="#000"/>
<rect x="1036" y="185" width="1" height="29" fill="#000"/>
<rect x="1034" y="200" width="5" height="8" fill="#000"/>
<rect x="1035" y="201" width="3" height="6" fill="#fff"/>
<rect x="1044" y="162" width="1" height="41" fill="#000"/>
<rect x="1042" y="169" width="5" height="32" fill="#000"/>
<rect x="1043" y="170" width="3" height="30" fill="#fff"/>
<rect x="1052" y="165" width="1" height="5" fill="#000"/>
<rect x="1050" y="166" width="5" height="3" fill="#000"/>
<rect x="1051" y="167" width="3" height="1" fill="#fff"/>
<rect x="1060" y="151" width="1" height="29" fill="#000"/>
<rect x="1058" y="166" width="5" height="1" fill="#000"/>
<rect x="1068" y="156" width="1" height="32" fill="#000"/>
<rect x="1066" y="166" width="5" height="7" fill="#000"/>
<rect x="1076" y="154" width="1" height="39" fill="#000"/>
<rect x="1074" y="172" width="5" height="9" fill="#000"/>
<rect x="1084" y="155" width="1" height="41" fill="#000"/>
<rect x="1082" y="178" width="5" height="2" fill="#000"/>
<rect x="1092" y="166" width="1" height="32" fill="#000"/>
<rect x="1090" y="177" width="5" height="5" fill="#000"/>
<rect x="1100" y="179" width="1" height="4" fill="#000"/>
<rect x="1098" y="180" width="5" height="2" fill="#000"/>
<rect x="1108" y="176" width="1" height="22" fill="#000"/>
<rect x="1106" y="181" width="5" height="7" fill="#000"/>
<rect x="1116" y="181" width="1" height="30" fill="#000"/>
<rect x="1114" y="187" width="5" height="17" fill="#000"/>
<rect x="1124" y="176" width="1" height="32" fill="#000"/>
<rect x="1122" y="187" width="5" height="16" fill="#000"/>
<rect x="1123" y="188" width="3" height="14" fill="#fff"/>
<rect x="1132" y="159" width="1" height="28" fill="#000"/>
<rect x="1130" y="164" width="5" height="23" fill="#000"/>
<rect x="1131" y="165" width="3" height="21" fill="#fff"/>
<rect x="1140" y="122" width="1" height="43" fill="#000"/>
<rect x="1138" y="132" width="5" height="32" fill="#000"/>
<rect x="1139" y="133" width="3" height="30" fill="#fff"/>
<rect x="1148" y="124" width="1" height="5" fill="#000"/>
<rect x="1146" y="125" width="5" height="3" fill="#000"/>
<rect x="1147" y="126" width="3" height="1" fill="#fff"/>
<rect x="1156" y="119" width="1" height="33" fill="#000"/>
<rect x="1154" y="122" width="5" height="4" fill="#000"/>
<rect x="1155" y="123" width="3" height="2" fill="#fff"/>
<rect x="1164" y="86" width="1" height="40" fill="#000"/>
<rect x="1162" y="94" width="5" height="29" fill="#000"/>
<rect x="1163" y="95" width="3" height="27" fill="#fff"/>
<rect x="1172" y="53" width="1" height="44" fill="#000"/>
<rect x="1170" y="66" width="5" height="27" fill="#000"/>
<rect x="1171" y="67" width="3" height="25" fill="#fff"/>
<rect x="1180" y="61" width="1" height="19" fill="#000"/>
<rect x="1178" y="66" width="5" height="11" fill="#000"/>
<rect x="1188" y="65" width="1" height="8" fill="#000"/>
<rect x="1186" y="67" width="5" height="4" fill="#000"/>
<rect x="1196" y="68" width="1" height="48" fill="#000"/>
<rect x="1194" y="70" width="5" height="31" fill="#000"/>
<rect x="1204" y="79" width="1" height="55" fill="#000"/>
<rect x="1202" y="100" width="5" height="26" fill="#000"/>
<rect x="1212" y="116" width="1" height="23" fill="#000"/>
<rect x="1210" y="121" width="5" height="5" fill="#000"/>
<rect x="1211" y="122" width="3" height="3" fill="#fff"/>
<rect x="1220" y="118" width="1" height="57" fill="#000"/>
<rect x="1218" y="121" width="5" height="33" fill="#000"/>
<rect x="1228" y="115" width="1" height="46" fill="#000"/>
<rect x="1226" y="133" width="5" height="21" fill="#000"/>
<rect x="1227" y="134" width="3" height="19" fill="#fff"/>
<rect x="1236" y="127" width="1" height="4" fill="#000"/>
<rect x="1234" y="127" width="5" height="3" fill="#000"/>
<rect x="1244" y="126" width="1" height="33" fill="#000"/>
<rect x="1242" y="129" width="5" height="15" fill="#000"/>
<rect x="1252" y="127" width="1" height="54" fill="#000"/>
<rect x="1250" y="150" width="5" height="29" fill="#000"/>
<rect x="1260" y="171" width="1" height="19" fill="#000"/>
<rect x="1258" y="178" width="5" height="3" fill="#000"/>
<rect x="1268" y="176" width="1" height="22" fill="#000"/>
<rect x="1266" y="180" width="5" height="13" fill="#000"/>
<rect x="1276" y="176" width="1" height="22" fill="#000"/>
<rect x="1274" y="186" width="5" height="7" fill="#000"/>
<rect x="1275" y="187" width="3" height="5" fill="#fff"/>
<rect x="1284" y="187" width="1" height="8" fill="#000"/>
<rect x="1282" y="187" width="5" height="4" fill="#000"/>
<rect x="1292" y="188" width="1" height="47" fill="#000"/>
<rect x="1290" y="190" width="5" height="38" fill="#000"/>
<rect x="1300" y="201" width="1" height="35" fill="#000"/>
<rect x="1298" y="226" width="5" height="4" fill="#000"/>
<rect x="1308" y="217" width="1" height="18" fill="#000"/>
<rect x="1306" y="227" width="5" height="6" fill="#000"/>
<rect x="1316" y="220" width="1" height="28" fill="#000"/>
<rect x="1314" y="232" width="5" height="4" fill="#000"/>
<rect x="1324" y="226" width="1" height="42" fill="#000"/>
<rect x="1322" y="235" width="5" height="4" fill="#000"/>
<rect x="1332" y="241" width="1" height="3" fill="#000"/>
<rect x="1330" y="241" width="5" height="2" fill="#000"/>
<rect x="1340" y="222" width="1" height="34" fill="#000"/>
<rect x="1338" y="222" width="5" height="20" fill="#000"/>
<rect x="1339" y="223" width="3" height="18" fill="#fff"/>
<rect x="1348" y="187" width="1" height="37" fill="#000"/>
<rect x="1346" y="189" width="5" height="35" fill="#000"/>
<rect x="1347" y="190" width="3" height="33" fill="#fff"/>
<rect x="1356" y="174" width="1" height="31" fill="#000"/>
<rect x="1354" y="189" width="5" height="16" fill="#000"/>
<rect x="1364" y="160" width="1" height="49" fill="#000"/>
<rect x="1362" y="179" width="5" height="26" fill="#000"/>
<rect x="1363" y="180" width="3" height="24" fill="#fff"/>
<rect x="1372" y="153" width="1" height="39" fill="#000"/>
<rect x="1370" y="155" width="5" height="24" fill="#000"/>
<rect x="1371" y="156" width="3" height="22" fill="#fff"/>
<rect x="1380" y="154" width="1" height="3" fill="#000"/>
<rect x="1378" y="154" width="5" height="3" fill="#000"/>
<rect x="1388" y="131" width="1" height="50" fill="#000"/>
<rect x="1386" y="156" width="5" height="11" fill="#000"/>
<rect x="1396" y="144" width="1" height="23" fill="#000"/>
<rect x="1394" y="153" width="5" height="14" fill="#000"/>
<rect x="1395" y="154" width="3" height="12" fill="#fff"/>
<rect x="1404" y="144" width="1" height="25" fill="#000"/>
<rect x="1402" y="153" width="5" height="8" fill="#000"/>
<rect x="1412" y="148" width="1" height="25" fill="#000"/>
<rect x="1410" y="160" width="5" height="9" fill="#000"/>
</g>
<rect x="1324" y="165" width="136" height="9" fill="#00ff00" shape-rendering="crispEdges"/>
<g shape-rendering="crispEdges">
<rect x="4" y="693" width="1" height="2" fill="#c0c0c0"/>
<rect x="12" y="694" width="1" height="1" fill="#c0c0c0"/>
<rect x="20" y="695" width="1" height="1" fill="#c0c0c0"/>
<rect x="28" y="695" width="1" height="1" fill="#c0c0c0"/>
<rect x="36" y="695" width="1" height="4" fill="#c0c0c0"/>
<rect x="44" y="695" width="1" height="6" fill="#c0c0c0"/>
<rect x="52" y="695" width="1" height="6" fill="#c0c0c0"/>
<rect x="60" y="695" width="1" height="6" fill="#c0c0c0"/>
<rect x="68" y="695" width="1" height="5" fill="#c0c0c0"/>
<rect x="76" y="695" width="1" height="5" fill="#c0c0c0"/>
<rect x="84" y="695" width="1" height="11" fill="#c0c0c0"/>
<rect x="92" y="695" width="1" height="15" fill="#c0c0c0"/>
<rect x="100" y="695" width="1" height="18" fill="#c0c0c0"/>
<rect x="108" y="695" width="1" height="21" fill="#c0c0c0"/>
<rect x="116" y="695" width="1" height="21" fill="#c0c0c0"/>
<rect x="124" y="695" width="1" height="24" fill="#c0c0c0"/>
<rect x="132" y="695" width="1" height="28" fill="#c0c0c0"/>
<rect x="140" y="695" width="1" height="29" fill="#c0c0c0"/>
<rect x="148" y="695" width="1" height="28" fill="#c0c0c0"/>
<rect x="156" y="695" width="1" height="28" fill="#c0c0c0"/>
<rect x="164" y="695" width="1" height="27" fill="#c0c0c0"/>
<rect x="172" y="695" width="1" height="27" fill="#c0c0c0"/>
<rect x="180" y="695" width="1" height="28" fill="#c0c0c0"/>
<rect x="188" y="695" width="1" height="34" fill="#c0c0c0"/>
<rect x="196" y="695" width="1" height="42" fill="#c0c0c0"/>
<rect x="204" y="695" width="1" height="48" fill="#c0c0c0"/>
<rect x="212" y="695" width="1" height="35" fill="#c0c0c0"/>
<rect x="220" y="695" width="1" height="25" fill="#c0c0c0"/>
<rect x="228" y="695" width="1" height="16" fill="#c0c0c0"/>
<rect x="236" y="695" width="1" height="10" fill="#c0c0c0"/>
<rect x="244" y="695" width="1" height="10" fill="#c0c0c0"/>
<rect x="252" y="695" width="1" height="9" fill="#c0c0c0"/>
<rect x="260" y="695" width="1" height="10" fill="#c0c0c0"/>
<rect x="268" y="695" width="1" height="13" fill="#c0c0c0"/>
<rect x="276" y="695" width="1" height="18" fill="#c0c0c0"/>
<rect x="284" y="695" width="1" height="22" fill="#c0c0c0"/>
<rect x="292" y="695" width="1" height="24" fill="#c0c0c0"/>
<rect x="300" y="695" width="1" height="27" fill="#c0c0c0"/>
<rect x="308" y="695" width="1" height="20" fill="#c0c0c0"/>
<rect x="316" y="695" width="1" height="16" fill="#c0c0c0"/>
<rect x="324" y="695" width="1" height="16" fill="#c0c0c0"/>
<rect x="332" y="695" width="1" height="16" fill="#c0c0c0"/>
<rect x="340" y="695" width="1" height="17" fill="#c0c0c0"/>
<rect x="348" y="695" width="1" height="17" fill="#c0c0c0"/>
<rect x="356" y="695" width="1" height="15" fill="#c0c0c0"/>
<rect x="364" y="695" width="1" height="13" fill="#c0c0c0"/>
<rect x="372" y="695" width="1" height="11" fill="#c0c0c0"/>
<rect x="380" y="695" width="1" height="15" fill="#c0c0c0"/>
<rect x="388" y="695" width="1" height="15" fill="#c0c0c0"/>
<rect x="396" y="695" width="1" height="13" fill="#c0c0c0"/>
<rect x="404" y="695" width="1" height="14" fill="#c0c0c0"/>
<rect x="412" y="695" width="1" height="13" fill="#c0c0c0"/>
<rect x="420" y="695" width="1" height="11" fill="#c0c0c0"/>
<rect x="428" y="695" width="1" height="10" fill="#c0c0c0"/>
<rect x="436" y="695" width="1" height="12" fill="#c0c0c0"/>
<rect x="444" y="695" width="1" height="13" fill="#c0c0c0"/>
<rect x="452" y="695" width="1" height="13" fill="#c0c0c0"/>
<rect x="460" y="695" width="1" height="15" fill="#c0c0c0"/>
<rect x="468" y="695" width="1" height="18" fill="#c0c0c0"/>
<rect x="476" y="695" width="1" height="23" fill="#c0c0c0"/>
<rect x="484" y="695" width="1" height="25" fill="#c0c0c0"/>
<rect x="492" y="695" width="1" height="26" fill="#c0c0c0"/>
<rect x="500" y="695" width="1" height="28" fill="#c0c0c0"/>
<rect x="508" y="695" width="1" height="27" fill="#c0c0c0"/>
<rect x="516" y="695" width="1" height="26" fill="#c0c0c0"/>
<rect x="524" y="695" width="1" height="25" fill="#c0c0c0"/>
<rect x="532" y="695" width="1" height="23" fill="#c0c0c0"/>
<rect x="540" y="695" width="1" height="22" fill="#c0c0c0"/>
<rect x="548" y="695" width="1" height="21" fill="#c0c0c0"/>
<rect x="556" y="695" width="1" height="23" fill="#c0c0c0"/>
<rect x="564" y="695" width="1" height="24" fill="#c0c0c0"/>
<rect x="572" y="695" width="1" height="24" fill="#c0c0c0"/>
<rect x="580" y="695" width="1" height="25" fill="#c0c0c0"/>
<rect x="588" y="695" width="1" height="28" fill="#c0c0c0"/>
<rect x="596" y="695" width="1" height="28" fill="#c0c0c0"/>
<rect x="604" y="695" width="1" height="22" fill="#c0c0c0"/>
<rect x="612" y="695" width="1" height="15" fill="#c0c0c0"/>
<rect x="620" y="695" width="1" height="9" fill="#c0c0c0"/>
<rect x="628" y="695" width="1" height="3" fill="#c0c0c0"/>
<rect x="636" y="695" width="1" height="2" fill="#c0c0c0"/>
<rect x="644" y="695" width="1" height="1" fill="#c0c0c0"/>
<rect x="652" y="694" width="1" height="1" fill="#c0c0c0"/>
<rect x="660" y="693" width="1" height="2" fill="#c0c0c0"/>
<rect x="668" y="693" width="1" height="2" fill="#c0c0c0"/>
<rect x="676" y="693" width="1" height="2" fill="#c0c0c0"/>
<rect x="684" y="692" width="1" height="3" fill="#c0c0c0"/>
<rect x="692" y="694" width="1" height="1" fill="#c0c0c0"/>
<rect x="700" y="695" width="1" height="1" fill="#c0c0c0"/>
<rect x="708" y="695" width="1" height="1" fill="#c0c0c0"/>
<rect x="716" y="694" width="1" height="1" fill="#c0c0c0"/>
<rect x="732" y="695" width="1" height="1" fill="#c0c0c0"/>
<rect x="740" y="693" width="1" height="2" fill="#c0c0c0"/>
<rect x="748" y="688" width="1" height="7" fill="#c0c0c0"/>
<rect x="756" y="681" width="1" height="14" fill="#c0c0c0"/>
<rect x="764" y="676" width="1" height="19" fill="#c0c0c0"/>
<rect x="772" y="671" width="1" height="24" fill="#c0c0c0"/>
<rect x="780" y="666" width="1" height="29" fill="#c0c0c0"/>
<rect x="788" y="663" width="1" height="32" fill="#c0c0c0"/>
<rect x="796" y="656" width="1" height="39" fill="#c0c0c0"/>
<rect x="804" y="652" width="1" height="43" fill="#c0c0c0"/>
<rect x="812" y="650" width="1" height="45" fill="#c0c0c0"/>
<rect x="820" y="651" width="1" height="44" fill="#c0c0c0"/>
<rect x="828" y="657" width="1" height="38" fill="#c0c0c0"/>
<rect x="836" y="662" width="1" height="33" fill="#c0c0c0"/>
<rect x="844" y="665" width="1" height="30" fill="#c0c0c0"/>
<rect x="852" y="666" width="1" height="29" fill="#c0c0c0"/>
<rect x="860" y="666" width="1" height="29" fill="#c0c0c0"/>
<rect x="868" y="664" width="1" height="31" fill="#c0c0c0"/>
<rect x="876" y="657" width="1" height="38" fill="#c0c0c0"/>
<rect x="884" y="654" width="1" height="41" fill="#c0c0c0"/>
<rect x="892" y="653" width="1" height="42" fill="#c0c0c0"/>
<rect x="900" y="655" width="1" height="40" fill="#c0c0c0"/>
<rect x="908" y="656" width="1" height="39" fill="#c0c0c0"/>
<rect x="916" y="662" width="1" height="33" fill="#c0c0c0"/>
<rect x="924" y="665" width="1" height="30" fill="#c0c0c0"/>
<rect x="932" y="662" width="1" height="33" fill="#c0c0c0"/>
<rect x="940" y="657" width="1" height="38" fill="#c0c0c0"/>
<rect x="948" y="650" width="1" height="45" fill="#c0c0c0"/>
<rect x="956" y="647" width="1" height="48" fill="#c0c0c0"/>
<rect x="964" y="642" width="1" height="53" fill="#c0c0c0"/>
<rect x="972" y="640" width="1" height="55" fill="#c0c0c0"/>
<rect x="980" y="636" width="1" height="59" fill="#c0c0c0"/>
<rect x="988" y="627" width="1" height="68" fill="#c0c0c0"/>
<rect x="996" y="617" width="1" height="78" fill="#c0c0c0"/>
<rect x="1004" y="609" width="1" height="86" fill="#c0c0c0"/>
<rect x="1012" y="600" width="1" height="95" fill="#c0c0c0"/>
<rect x="1020" y="597" width="1" height="98" fill="#c0c0c0"/>
<rect x="1028" y="596" width="1" height="99" fill="#c0c0c0"/>
<rect x="1036" y="596" width="1" height="99" fill="#c0c0c0"/>
<rect x="1044" y="593" width="1" height="102" fill="#c0c0c0"/>
<rect x="1052" y="591" width="1" height="104" fill="#c0c0c0"/>
<rect x="1060" y="591" width="1" height="104" fill="#c0c0c0"/>
<rect x="1068" y="593" width="1" height="102" fill="#c0c0c0"/>
<rect x="1076" y="597" width="1" height="98" fill="#c0c0c0"/>
<rect x="1084" y="600" width="1" height="95" fill="#c0c0c0"/>
<rect x="1092" y="605" width="1" height="90" fill="#c0c0c0"/>
<rect x="1100" y="610" width="1" height="85" fill="#c0c0c0"/>
<rect x="1108" y="615" width="1" height="80" fill="#c0c0c0"/>
<rect x="1116" y="622" width="1" height="73" fill="#c0c0c0"/>
<rect x="1124" y="627" width="1" height="68" fill="#c0c0c0"/>
<rect x="1132" y="627" width="1" height="68" fill="#c0c0c0"/>
<rect x="1140" y="625" width="1" height="70" fill="#c0c0c0"/>
<rect x="1148" y="623" width="1" height="72" fill="#c0c0c0"/>
<rect x="1156" y="619" width="1" height="76" fill="#c0c0c0"/>
<rect x="1164" y="617" width="1" height="78" fill="#c0c0c0"/>
<rect x="1172" y="612" width="1" height="83" fill="#c0c0c0"/>
<rect x="1180" y="609" width="1" height="86" fill="#c0c0c0"/>
<rect x="1188" y="607" width="1" height="88" fill="#c0c0c0"/>
<rect x="1196" y="611" width="1" height="84" fill="#c0c0c0"/>
<rect x="1204" y="618" width="1" height="77" fill="#c0c0c0"/>
<rect x="1212" y="624" width="1" height="71" fill="#c0c0c0"/>
<rect x="1220" y="634" width="1" height="61" fill="#c0c0c0"/>
<rect x="1228" y="640" width="1" height="55" fill="#c0c0c0"/>
<rect x="1236" y="645" width="1" height="50" fill="#c0c0c0"/>
<rect x="1244" y="652" width="1" height="43" fill="#c0c0c0"/>
<rect x="1252" y="662" width="1" height="33" fill="#c0c0c0"/>
<rect x="1260" y="670" width="1" height="25" fill="#c0c0c0"/>
<rect x="1268" y="679" width="1" height="16" fill="#c0c0c0"/>
<rect x="1276" y="685" width="1" height="10" fill="#c0c0c0"/>
<rect x="1284" y="690" width="1" height="5" fill="#c0c0c0"/>
<rect x="1292" y="695" width="1" height="4" fill="#c0c0c0"/>
<rect x="1300" y="695" width="1" height="11" fill="#c0c0c0"/>
<rect x="1308" y="695" width="1" height="17" fill="#c0c0c0"/>
<rect x="1316" y="695" width="1" height="22" fill="#c0c0c0"/>
<rect x="1324" y="695" width="1" height="27" fill="#c0c0c0"/>
<rect x="1332" y="695" width="1" height="29" fill="#c0c0c0"/>
<rect x="1340" y="695" width="1" height="31" fill="#c0c0c0"/>
<rect x="1348" y="695" width="1" height="23" fill="#c0c0c0"/>
<rect x="1356" y="695" width="1" height="21" fill="#c0c0c0"/>
<rect x="1364" y="695" width="1" height="17" fill="#c0c0c0"/>
<rect x="1372" y="695" width="1" height="10" fill="#c0c0c0"/>
<rect x="1380" y="695" width="1" height="6" fill="#c0c0c0"/>
<rect x="1388" y="695" width="1" height="2" fill="#c0c0c0"/>
<rect x="1396" y="694" width="1" height="1" fill="#c0c0c0"/>
<rect x="1404" y="690" width="1" height="5" fill="#c0c0c0"/>
<rect x="1412" y="688" width="1" height="7" fill="#c0c0c0"/>
</g>
<polyline points="0.0,700.7 10.0,698.3 30.0,696.3 56.7,696.7 80.0,698.7 93.3,702.7 110.0,705.3 133.3,712.7 150.0,717.7 166.7,721.0 183.3,721.7 196.7,725.7 211.7,728.7 226.7,726.0 246.7,723.3 260.0,719.0 276.7,712.0 290.0,710.3 306.7,712.7 326.7,714.7 350.0,715.7 373.3,711.7 400.0,710.3 420.0,708.3 443.3,707.3 460.0,707.3 476.7,709.3 493.3,712.3 510.0,716.7 530.0,720.0 550.0,720.3 566.7,719.0 576.0,718.3 596.0,720.0 616.0,717.7 642.7,711.0 662.7,702.7 686.0,694.3 709.3,693.3 726.0,692.7 736.0,693.7 762.7,690.0 776.0,685.0 792.7,677.7 809.3,667.7 822.7,661.0 836.0,658.7 859.3,657.3 876.0,659.3 902.7,659.3 929.3,658.7 949.3,656.7 969.3,653.3 982.7,649.3 999.3,639.3 1012.7,630.0 1026.0,619.3 1042.7,609.3 1056.0,600.7 1069.3,595.7 1086.0,594.3 1102.7,596.0 1116.0,601.7 1136.0,611.7 1152.0,617.0 1168.7,620.7 1185.3,618.3 1202.0,615.7 1222.0,616.0 1235.3,620.7 1252.0,630.0 1268.7,645.0 1285.3,661.0 1302.0,676.7 1312.0,686.7 1325.3,696.7 1338.7,708.3 1352.0,715.0 1365.3,717.3 1378.7,716.7 1392.0,712.7 1408.7,704.0" fill="none" stroke="#ff0000" stroke-width="1" shape-rendering="crispEdges" stroke-dasharray="3,3"/>
<polyline points="0.0,832.7 4.0,840.0 12.0,840.7 20.0,849.3 28.0,845.7 36.0,854.3 44.0,847.3 52.0,845.7 60.0,844.7 68.0,843.7 76.0,842.7 84.0,866.7 92.0,857.3 100.0,861.0 108.0,862.7 116.0,856.7 124.0,864.3 132.0,869.3 140.0,860.0 148.0,854.7 156.0,857.7 164.0,851.7 172.0,857.3 180.0,860.7 188.0,877.3 196.0,883.3 204.0,882.7 212.0,831.0 220.0,829.3 228.0,827.3 236.0,834.3 244.0,844.3 252.0,843.3 260.0,845.0 268.0,851.7 276.0,856.7 284.0,859.3 292.0,859.3 300.0,859.3 308.0,840.0 316.0,840.7 324.0,843.3 332.0,846.7 340.0,852.3 348.0,850.0 356.0,843.3 364.0,844.3 372.0,839.3 380.0,855.3 388.0,847.7 396.0,844.3 404.0,849.3 412.0,845.0 420.0,841.0 428.0,844.3 436.0,849.0 444.0,850.3 452.0,849.3 460.0,858.7 468.0,863.3 476.0,870.7 484.0,864.0 492.0,857.3 500.0,861.7 508.0,855.0 516.0,853.7 524.0,853.7 532.0,853.7 540.0,846.7 548.0,851.0 556.0,864.3 564.0,860.0 572.0,858.3 580.0,861.7 588.0,874.3 596.0,858.3 604.0,833.3 612.0,831.0 620.0,826.7 628.0,825.3 636.0,838.3 644.0,836.7 652.0,835.7 660.0,834.7 668.0,833.3 676.0,841.3 684.0,834.7 692.0,846.3 700.0,847.7 708.0,836.7 716.0,838.3 724.0,840.0 732.0,845.7 740.0,827.3 748.0,823.3 756.0,812.3 764.0,814.3 772.0,810.7 780.0,807.3 788.0,809.3 796.0,798.7 804.0,804.3 812.0,806.0 820.0,814.0 828.0,837.3 836.0,836.7 844.0,832.3 852.0,826.7 860.0,824.3 868.0,816.7 876.0,803.3 884.0,812.3 892.0,819.3 900.0,824.3 908.0,823.3 916.0,840.0 924.0,832.3 932.0,819.3 940.0,812.7 948.0,809.3 956.0,813.3 964.0,808.3 972.0,810.7 980.0,806.0 988.0,795.3 996.0,792.7 1004.0,791.3 1012.0,787.3 1020.0,798.3 1028.0,802.3 1036.0,800.0 1044.0,795.7 1052.0,795.3 1060.0,794.3 1068.0,798.3 1076.0,803.3 1084.0,802.3 1092.0,804.3 1100.0,805.7 1108.0,809.3 1116.0,820.3 1124.0,814.3 1132.0,806.7 1140.0,798.7 1148.0,797.3 1156.0,796.0 1164.0,790.0 1172.0,786.0 1180.0,793.3 1188.0,792.3 1196.0,810.0 1204.0,823.3 1212.0,822.3 1220.0,836.7 1228.0,829.3 1236.0,828.3 1244.0,837.7 1252.0,848.3 1260.0,849.0 1268.0,853.7 1276.0,850.0 1284.0,851.3 1292.0,864.3 1300.0,863.7 1308.0,865.0 1316.0,866.3 1324.0,868.0 1332.0,868.3 1340.0,858.3 1348.0,838.7 1356.0,844.3 1364.0,835.0 1372.0,826.0 1380.0,826.7 1388.0,832.7 1396.0,826.7 1404.0,829.3 1412.0,833.3" fill="none" stroke="#1e90ff" stroke-width="0.8" shape-rendering="crispEdges" />
<line x1="1179.5" y1="53.3" x2="1323.5" y2="261.3" stroke="#ff0000" stroke-width="3"/>
<polygon points="1329.2,269.5 1319.6,264.0 1327.5,258.5" fill="#ff0000"/>
<line x1="1328.5" y1="268.5" x2="1384.5" y2="153.2" stroke="#ff0000" stroke-width="3"/>
<polygon points="1388.7,144.7 1389.0,155.4 1380.0,151.1" fill="#ff0000"/>
<line x1="1388.7" y1="145.0" x2="1413.7" y2="162.2" stroke="#ff0000" stroke-width="3"/>
<polygon points="1422.0,167.8 1410.6,166.7 1416.9,157.6" fill="#ff0000"/>
<line x1="1321.3" y1="729.3" x2="1411.4" y2="683.8" stroke="#ff0000" stroke-width="3"/>
<polygon points="1420.3,679.3 1413.6,688.3 1409.1,679.3" fill="#ff0000"/>
<line x1="1311.3" y1="884.6" x2="1371.6" y2="832.2" stroke="#ff0000" stroke-width="3"/>
<polygon points="1378.0,826.6 1374.3,835.3 1368.8,829.0" fill="#ff0000"/>
<line x1="1377.5" y1="827.0" x2="1414.1" y2="832.1" stroke="#ff0000" stroke-width="3"/>
<polygon points="1424.0,833.5 1413.5,836.5 1414.7,827.8" fill="#ff0000"/>
<rect x="1101.5" y="44.5" width="61" height="18" fill="#fff" stroke="#ff0000" stroke-width="1" shape-rendering="crispEdges"/>
<text x="1102.9" y="59.9" font-size="16" fill="#ff0000" textLength="59" lengthAdjust="spacingAndGlyphs">110.956</text>
<rect x="1163" y="53" width="9" height="1" fill="#ff0000" shape-rendering="crispEdges"/>
<rect x="1134.5" y="160.5" width="60" height="18" fill="#fff" stroke="#ff0000" stroke-width="1" shape-rendering="crispEdges"/>
<text x="1135.9" y="175.9" font-size="16" fill="#ff0000" textLength="59" lengthAdjust="spacingAndGlyphs">109.062</text>
<rect x="1195" y="169" width="10" height="1" fill="#ff0000" shape-rendering="crispEdges"/>
<rect x="1045.5" y="201.5" width="61" height="18" fill="#fff" stroke="#ff0000" stroke-width="1" shape-rendering="crispEdges"/>
<text x="1046.9" y="216.9" font-size="16" fill="#ff0000" textLength="59" lengthAdjust="spacingAndGlyphs">108.393</text>
<rect x="1107" y="210" width="10" height="1" fill="#ff0000" shape-rendering="crispEdges"/>
<rect x="1253.5" y="258.5" width="61" height="18" fill="#fff" stroke="#ff0000" stroke-width="1" shape-rendering="crispEdges"/>
<text x="1254.9" y="273.9" font-size="16" fill="#ff0000" textLength="59" lengthAdjust="spacingAndGlyphs">107.463</text>
<rect x="1315" y="267" width="10" height="1" fill="#ff0000" shape-rendering="crispEdges"/>
<polygon points="1424,27 1434,27 1429,32" fill="#b8b8b8"/>
<g shape-rendering="crispEdges">
<rect x="1684" y="48" width="2" height="1" fill="#000"/>
<rect x="1684" y="81" width="2" height="1" fill="#000"/>
<rect x="1684" y="114" width="2" height="1" fill="#000"/>
<rect x="1684" y="147" width="2" height="1" fill="#000"/>
<rect x="1684" y="180" width="2" height="1" fill="#000"/>
<rect x="1684" y="213" width="2" height="1" fill="#000"/>
<rect x="1684" y="246" width="2" height="1" fill="#000"/>
<rect x="1684" y="279" width="2" height="1" fill="#000"/>
<rect x="1684" y="312" width="2" height="1" fill="#000"/>
<rect x="1684" y="345" width="2" height="1" fill="#000"/>
<rect x="1684" y="378" width="2" height="1" fill="#000"/>
<rect x="1684" y="411" width="2" height="1" fill="#000"/>
<rect x="1684" y="444" width="2" height="1" fill="#000"/>
<rect x="1684" y="477" width="2" height="1" fill="#000"/>
<rect x="1684" y="510" width="2" height="1" fill="#000"/>
<rect x="1684" y="543" width="2" height="1" fill="#000"/>
<rect x="1684" y="576" width="2" height="1" fill="#000"/>
</g>
<text x="1689.5" y="52.0" font-size="9.2" fill="#000" stroke="#000" stroke-width="0.2" textLength="32.5" lengthAdjust="spacingAndGlyphs">111.040</text>
<text x="1689.5" y="85.0" font-size="9.2" fill="#000" stroke="#000" stroke-width="0.2" textLength="32.5" lengthAdjust="spacingAndGlyphs">110.500</text>
<text x="1689.5" y="118.0" font-size="9.2" fill="#000" stroke="#000" stroke-width="0.2" textLength="32.5" lengthAdjust="spacingAndGlyphs">109.960</text>
<text x="1689.5" y="151.0" font-size="9.2" fill="#000" stroke="#000" stroke-width="0.2" textLength="32.5" lengthAdjust="spacingAndGlyphs">109.420</text>
<text x="1689.5" y="184.0" font-size="9.2" fill="#000" stroke="#000" stroke-width="0.2" textLength="32.5" lengthAdjust="spacingAndGlyphs">108.880</text>
<text x="1689.5" y="217.0" font-size="9.2" fill="#000" stroke="#000" stroke-width="0.2" textLength="32.5" lengthAdjust="spacingAndGlyphs">108.340</text>
<text x="1689.5" y="250.0" font-size="9.2" fill="#000" stroke="#000" stroke-width="0.2" textLength="32.5" lengthAdjust="spacingAndGlyphs">107.800</text>
<text x="1689.5" y="283.0" font-size="9.2" fill="#000" stroke="#000" stroke-width="0.2" textLength="32.5" lengthAdjust="spacingAndGlyphs">107.260</text>
<text x="1689.5" y="316.0" font-size="9.2" fill="#000" stroke="#000" stroke-width="0.2" textLength="32.5" lengthAdjust="spacingAndGlyphs">106.720</text>
<text x="1689.5" y="349.0" font-size="9.2" fill="#000" stroke="#000" stroke-width="0.2" textLength="32.5" lengthAdjust="spacingAndGlyphs">106.195</text>
<text x="1689.5" y="382.0" font-size="9.2" fill="#000" stroke="#000" stroke-width="0.2" textLength="32.5" lengthAdjust="spacingAndGlyphs">105.655</text>
<text x="1689.5" y="415.0" font-size="9.2" fill="#000" stroke="#000" stroke-width="0.2" textLength="32.5" lengthAdjust="spacingAndGlyphs">105.115</text>
<text x="1689.5" y="448.0" font-size="9.2" fill="#000" stroke="#000" stroke-width="0.2" textLength="32.5" lengthAdjust="spacingAndGlyphs">104.575</text>
<text x="1689.5" y="481.0" font-size="9.2" fill="#000" stroke="#000" stroke-width="0.2" textLength="32.5" lengthAdjust="spacingAndGlyphs">104.035</text>
<text x="1689.5" y="514.0" font-size="9.2" fill="#000" stroke="#000" stroke-width="0.2" textLength="32.5" lengthAdjust="spacingAndGlyphs">103.495</text>
<text x="1689.5" y="547.0" font-size="9.2" fill="#000" stroke="#000" stroke-width="0.2" textLength="32.5" lengthAdjust="spacingAndGlyphs">102.955</text>
<text x="1689.5" y="580.0" font-size="9.2" fill="#000" stroke="#000" stroke-width="0.2" textLength="32.5" lengthAdjust="spacingAndGlyphs">102.415</text>
<rect x="1685" y="109" width="41" height="11" fill="#ff0000" shape-rendering="crispEdges"/>
<text x="1689.5" y="118.0" font-size="9.2" fill="#fff" textLength="32.5" lengthAdjust="spacingAndGlyphs">109.944</text>
<rect x="1685" y="138" width="41" height="11" fill="#ff0000" shape-rendering="crispEdges"/>
<text x="1689.5" y="147.0" font-size="9.2" fill="#fff" textLength="32.5" lengthAdjust="spacingAndGlyphs">109.470</text>
<rect x="1685" y="163" width="41" height="11" fill="#00ced1" shape-rendering="crispEdges"/>
<text x="1689.5" y="172.0" font-size="9.2" fill="#fff" textLength="32.5" lengthAdjust="spacingAndGlyphs">109.062</text>
<rect x="1685" y="185" width="41" height="11" fill="#0000ff" shape-rendering="crispEdges"/>
<text x="1689.5" y="194.0" font-size="9.2" fill="#fff" textLength="32.5" lengthAdjust="spacingAndGlyphs">108.703</text>
<rect x="1685" y="204" width="41" height="11" fill="#0000ff" shape-rendering="crispEdges"/>
<text x="1689.5" y="213.0" font-size="9.2" fill="#fff" textLength="32.5" lengthAdjust="spacingAndGlyphs">108.393</text>
<text x="1687.5" y="591.2" font-size="9.2" fill="#000" stroke="#000" stroke-width="0.2" textLength="28" lengthAdjust="spacingAndGlyphs">1.0779</text>
<text x="1687.5" y="698.7" font-size="9.2" fill="#000" stroke="#000" stroke-width="0.2" textLength="18" lengthAdjust="spacingAndGlyphs">0.00</text>
<text x="1686" y="747.9" font-size="9.2" fill="#000" stroke="#000" stroke-width="0.2" textLength="31" lengthAdjust="spacingAndGlyphs">-0.5289</text>
<g shape-rendering="crispEdges">
<rect x="1684" y="582" width="2" height="1" fill="#000"/>
<rect x="1684" y="695" width="2" height="1" fill="#000"/>
<rect x="1684" y="749" width="2" height="1" fill="#000"/>
<rect x="1684" y="789" width="2" height="1" fill="#000"/>
<rect x="1684" y="840" width="2" height="1" fill="#000"/>
<rect x="1684" y="901" width="2" height="1" fill="#000"/>
</g>
<text x="1687.5" y="764.1" font-size="9.2" fill="#000" stroke="#000" stroke-width="0.2" textLength="14" lengthAdjust="spacingAndGlyphs">100</text>
<text x="1687.5" y="792.9" font-size="9.2" fill="#000" stroke="#000" stroke-width="0.2" textLength="9.5" lengthAdjust="spacingAndGlyphs">80</text>
<text x="1687.5" y="843.9" font-size="9.2" fill="#000" stroke="#000" stroke-width="0.2" textLength="9.5" lengthAdjust="spacingAndGlyphs">50</text>
<text x="1687.5" y="905.4" font-size="9.2" fill="#000" stroke="#000" stroke-width="0.2" textLength="9.5" lengthAdjust="spacingAndGlyphs">15</text>
<text x="1687.5" y="924.4" font-size="9.2" fill="#000" stroke="#000" stroke-width="0.2">0</text>
<text x="0.5" y="593.6" font-size="9.2" fill="#000" textLength="130" lengthAdjust="spacingAndGlyphs">MACD(12,26,9) 0.0751 -0.0583</text>
<text x="0.5" y="765.6" font-size="9.2" fill="#000" textLength="67.5" lengthAdjust="spacingAndGlyphs">RSI(14) 53.6950</text>
<polygon points="0,37.5 6,37.5 3,33.5" fill="#000"/>
<text x="11.7" y="38" font-size="9.2" fill="#000" textLength="62.7" lengthAdjust="spacingAndGlyphs">USDJPY-,Daily</text>
<text x="81.4" y="38" font-size="9.2" fill="#000" textLength="140.2" lengthAdjust="spacingAndGlyphs">109.215 109.420 108.995 109.078</text>
<g shape-rendering="crispEdges">
<rect x="60" y="928" width="1" height="3" fill="#000"/>
<rect x="124" y="928" width="1" height="3" fill="#000"/>
<rect x="188" y="928" width="1" height="3" fill="#000"/>
<rect x="252" y="928" width="1" height="3" fill="#000"/>
<rect x="316" y="928" width="1" height="3" fill="#000"/>
<rect x="380" y="928" width="1" height="3" fill="#000"/>
<rect x="444" y="928" width="1" height="3" fill="#000"/>
<rect x="508" y="928" width="1" height="3" fill="#000"/>
<rect x="572" y="928" width="1" height="3" fill="#000"/>
<rect x="636" y="928" width="1" height="3" fill="#000"/>
<rect x="700" y="928" width="1" height="3" fill="#000"/>
<rect x="764" y="928" width="1" height="3" fill="#000"/>
<rect x="828" y="928" width="1" height="3" fill="#000"/>
<rect x="892" y="928" width="1" height="3" fill="#000"/>
<rect x="956" y="928" width="1" height="3" fill="#000"/>
<rect x="1020" y="928" width="1" height="3" fill="#000"/>
<rect x="1084" y="928" width="1" height="3" fill="#000"/>
<rect x="1148" y="928" width="1" height="3" fill="#000"/>
<rect x="1212" y="928" width="1" height="3" fill="#000"/>
<rect x="1276" y="928" width="1" height="3" fill="#000"/>
<rect x="1340" y="928" width="1" height="3" fill="#000"/>
<rect x="1404" y="928" width="1" height="3" fill="#000"/>
</g>
<text x="-4.5" y="940" font-size="9.2" fill="#000" stroke="#000" stroke-width="0.2">9 Oct 2020</text>
<text x="59.5" y="940" font-size="9.2" fill="#000" stroke="#000" stroke-width="0.2">18 Oct 2020</text>
<text x="123.5" y="940" font-size="9.2" fill="#000" stroke="#000" stroke-width="0.2">27 Oct 2020</text>
<text x="187.5" y="940" font-size="9.2" fill="#000" stroke="#000" stroke-width="0.2">5 Nov 2020</text>
<text x="251.5" y="940" font-size="9.2" fill="#000" stroke="#000" stroke-width="0.2">15 Nov 2020</text>
<text x="315.5" y="940" font-size="9.2" fill="#000" stroke="#000" stroke-width="0.2">24 Nov 2020</text>
<text x="379.5" y="940" font-size="9.2" fill="#000" stroke="#000" stroke-width="0.2">3 Dec 2020</text>
<text x="443.5" y="940" font-size="9.2" fill="#000" stroke="#000" stroke-width="0.2">13 Dec 2020</text>
<text x="507.5" y="940" font-size="9.2" fill="#000" stroke="#000" stroke-width="0.2">22 Dec 2020</text>
<text x="571.5" y="940" font-size="9.2" fill="#000" stroke="#000" stroke-width="0.2">3 Jan 2021</text>
<text x="635.5" y="940" font-size="9.2" fill="#000" stroke="#000" stroke-width="0.2">12 Jan 2021</text>
<text x="699.5" y="940" font-size="9.2" fill="#000" stroke="#000" stroke-width="0.2">21 Jan 2021</text>
<text x="763.5" y="940" font-size="9.2" fill="#000" stroke="#000" stroke-width="0.2">31 Jan 2021</text>
<text x="827.5" y="940" font-size="9.2" fill="#000" stroke="#000" stroke-width="0.2">9 Feb 2021</text>
<text x="891.5" y="940" font-size="9.2" fill="#000" stroke="#000" stroke-width="0.2">18 Feb 2021</text>
<text x="955.5" y="940" font-size="9.2" fill="#000" stroke="#000" stroke-width="0.2">28 Feb 2021</text>
<text x="1019.5" y="940" font-size="9.2" fill="#000" stroke="#000" stroke-width="0.2">9 Mar 2021</text>
<text x="1083.5" y="940" font-size="9.2" fill="#000" stroke="#000" stroke-width="0.2">18 Mar 2021</text>
<text x="1147.5" y="940" font-size="9.2" fill="#000" stroke="#000" stroke-width="0.2">28 Mar 2021</text>
<text x="1211.5" y="940" font-size="9.2" fill="#000" stroke="#000" stroke-width="0.2">7 Apr 2021</text>
<text x="1275.5" y="940" font-size="9.2" fill="#000" stroke="#000" stroke-width="0.2">16 Apr 2021</text>
<text x="1339.5" y="940" font-size="9.2" fill="#000" stroke="#000" stroke-width="0.2">26 Apr 2021</text>
<text x="1403.5" y="940" font-size="9.2" fill="#000" stroke="#000" stroke-width="0.2">5 May 2021</text>
</svg>
<div id="oct">
  <div class="tab" style="left:0;width:50px;"><span style="display:inline-block;transform:scaleX(.86);position:relative;left:-1px">SELL</span><i></i></div>
  <div class="tab" style="left:166px;width:52px;"><span style="display:inline-block;transform:scaleX(.97);position:relative;left:-1px">BUY</span><i></i></div>
  <div class="vol"><div class="btn" style="left:1px"><svg width="18" height="17" style="position:absolute;left:0;top:0"><polygon points="6.500,6.500 11.500,6.500 9,9.500" fill="#4a5fb0"/></svg></div><div class="num">1.00</div><div class="btn" style="right:1px"><svg width="18" height="17" style="position:absolute;left:0;top:0"><polygon points="6.500,9.500 11.500,9.500 9,6.500" fill="#4a5fb0"/></svg></div></div>
  <div class="px" style="left:0"><span style="left:22px;top:20px;font-size:11.500px;font-weight:bold;line-height:13px;letter-spacing:.4px">109</span><span style="left:46px;top:1px;font-size:33px;line-height:36px;letter-spacing:-1.500px">07</span><span style="left:85.500px;top:4px;font-size:12.500px;font-weight:bold;line-height:12px">8</span></div>
  <div class="px" style="left:110px"><span style="left:22px;top:20px;font-size:11.500px;font-weight:bold;line-height:13px;letter-spacing:.4px">109</span><span style="left:47px;top:1px;font-size:33px;line-height:36px;letter-spacing:-1px">09</span><span style="left:86.500px;top:4px;font-size:12.500px;font-weight:bold;line-height:12px">8</span></div>
</div>
</body>
</html>
